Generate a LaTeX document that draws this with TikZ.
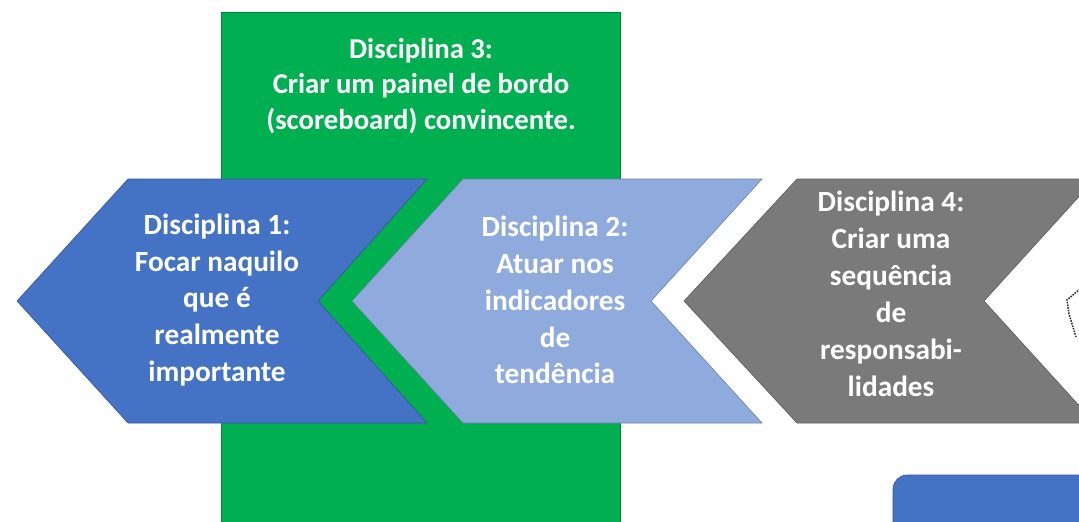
\documentclass[tikz,border=0pt]{standalone}
\usepackage{fontspec}
\setmainfont{Carlito}
\usepackage{tikz}
\usetikzlibrary{positioning}
\definecolor{dblue}{HTML}{4472C4}
\definecolor{lblue}{HTML}{8FAADC}
\definecolor{dgrey}{HTML}{7A7A7A}
\definecolor{dgreen}{HTML}{00B050}
\tikzset{
    %Define style for the chevrons
    chev/.style={
           draw=#1!75!black,
           line width=0.5pt,
           fill=#1},
    %Define style for the texts
    punkttxt/.style={
           text=white,
           align=center,
           inner sep=0pt,
           font=\fontsize{25}{31.5}\selectfont\bfseries}
}
\begin{document}
\begin{tikzpicture}[x=0.03cm,y=-0.03cm]
\useasboundingbox (0,0) rectangle (1079,521);
\clip (0,0) rectangle (1079,521);
\fill[white] (0,0) rectangle (1079,521);
 %shapes
\draw[chev=dgreen] (221,12) rectangle (620,540);
\draw[chev=dblue] (128,179) -- (427,179) -- (318,301) -- (427,423) -- (128,423) -- (17,301) -- cycle;
\draw[chev=lblue] (463,179) -- (762,179) -- (651,301) -- (762,423) -- (463,423) -- (352,301) -- cycle;
\draw[chev=dgrey] (797,179) -- (1095,179) -- (984,301) -- (1095,423) -- (797,423) -- (684,301) -- cycle;
\draw[chev=dblue, rounded corners=12] (893,475) rectangle (1110,570);
\draw[gray!30!black, densely dotted, line width=1.3pt] (1080,289) -- (1067,300) -- (1069,314) -- (1076,337);
 %texts
\node[punkttxt, font=\fontsize{24.5}{30.5}\selectfont\bfseries] (d3) at (421,86)
    {Disciplina 3:\\Criar um painel de bordo\\(scoreboard) convincente.};
\node[punkttxt] (d1) at (217,300)
    {Disciplina 1:\\Focar naquilo\\que é\\realmente\\importante};
\node[punkttxt] (d2) at (555,300)
    {Disciplina 2:\\Atuar nos\\indicadores\\de\\tendência};
\node[punkttxt] (d4) at (891,294)
    {Disciplina 4:\\Criar uma\\sequência\\de\\responsabi-\\lidades};
\end{tikzpicture}
\end{document}
